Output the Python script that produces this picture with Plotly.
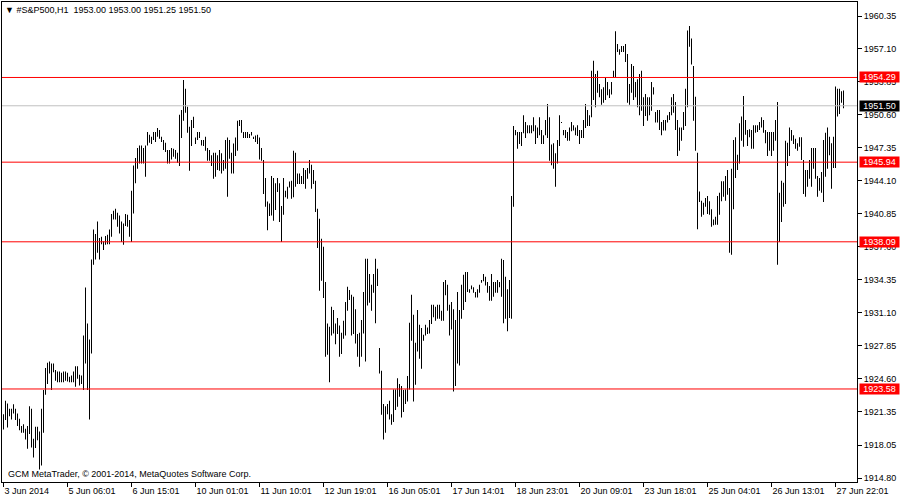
import plotly.graph_objects as go

symbol_caption = "\u25bc #S&P500,H1\u00a0\u00a01953.00 1953.00 1951.25 1951.50"
copyright_text = "GCM MetaTrader, \u00a9 2001-2014, MetaQuotes Software Corp."

# H1 bars, 3 Jun 2014 .. 27 Jun 2014 (high / low per bar)
highs = [
    1921.10, 1922.41, 1922.15, 1921.62, 1921.62, 1922.08, 1921.62, 1921.16, 1920.64, 1919.92,
    1920.11, 1919.65, 1919.92, 1921.89, 1921.62, 1918.67, 1919.85, 1919.85, 1919.39, 1921.62,
    1923.47, 1925.64, 1926.16, 1926.29, 1926.10, 1926.10, 1925.44, 1925.31, 1925.31, 1925.18,
    1925.31, 1925.31, 1925.18, 1924.78, 1924.91, 1925.31, 1925.83, 1925.83, 1924.98, 1924.91,
    1928.86, 1933.59, 1930.04, 1928.46, 1936.35, 1939.31, 1938.85, 1940.10, 1938.46, 1938.59,
    1938.13, 1938.65, 1938.78, 1939.31, 1940.82, 1941.15, 1941.35, 1940.95, 1940.69, 1940.10,
    1939.90, 1940.82, 1940.76, 1940.23, 1943.12, 1945.62, 1946.35, 1947.33, 1947.59, 1947.59,
    1947.33, 1947.59, 1948.91, 1948.65, 1948.45, 1948.91, 1948.91, 1949.30, 1949.11, 1948.45,
    1948.12, 1947.86, 1947.13, 1947.13, 1947.33, 1947.27, 1947.13, 1946.87, 1950.62, 1951.08,
    1954.04, 1953.18, 1951.41, 1949.44, 1950.09, 1950.42, 1948.38, 1948.91, 1948.91, 1948.12,
    1948.12, 1948.45, 1947.33, 1947.13, 1946.61, 1946.87, 1946.87, 1946.61, 1947.13, 1946.81,
    1946.15, 1948.12, 1948.38, 1948.12, 1946.87, 1947.79, 1948.38, 1950.03, 1950.09, 1950.09,
    1948.91, 1948.91, 1948.91, 1948.71, 1948.91, 1948.45, 1948.58, 1948.65, 1948.38, 1947.33,
    1946.15, 1944.37, 1942.07, 1941.87, 1944.57, 1944.37, 1943.85, 1944.37, 1943.85, 1941.61,
    1944.37, 1943.12, 1943.52, 1944.04, 1944.11, 1947.07, 1946.87, 1944.83, 1944.83, 1944.57,
    1945.36, 1945.16, 1945.36, 1946.15, 1945.69, 1945.16, 1944.11, 1941.35, 1940.36, 1938.39,
    1937.60, 1934.12, 1930.04, 1929.71, 1931.68, 1931.36, 1930.04, 1930.57, 1929.84, 1929.12,
    1930.31, 1932.15, 1933.66, 1933.33, 1932.87, 1932.68, 1931.43, 1928.99, 1929.13, 1930.37,
    1933.14, 1936.42, 1936.42, 1934.91, 1933.86, 1934.91, 1936.42, 1935.44, 1927.61, 1925.38,
    1922.09, 1921.89, 1922.09, 1922.42, 1921.10, 1923.54, 1923.54, 1924.65, 1924.06, 1923.87,
    1923.47, 1923.54, 1924.85, 1930.11, 1932.87, 1930.90, 1928.14, 1931.36, 1929.91, 1929.59,
    1928.93, 1929.91, 1929.65, 1930.37, 1931.89, 1931.89, 1931.69, 1931.89, 1931.89, 1931.29,
    1934.12, 1934.32, 1933.86, 1931.89, 1932.15, 1931.43, 1930.37, 1933.14, 1931.36, 1933.86,
    1934.85, 1935.11, 1935.11, 1933.40, 1933.79, 1933.60, 1933.14, 1933.40, 1933.86, 1934.32,
    1934.91, 1934.65, 1934.12, 1933.73, 1934.91, 1934.12, 1934.12, 1934.32, 1934.12, 1936.42,
    1936.29, 1934.65, 1933.40, 1934.32, 1942.60, 1949.51, 1949.11, 1948.91, 1948.91, 1948.91,
    1950.56, 1949.90, 1949.57, 1949.57, 1949.57, 1950.36, 1949.57, 1949.37, 1950.36, 1949.11,
    1948.59, 1950.10, 1951.68, 1950.36, 1947.67, 1947.80, 1946.81, 1948.13, 1950.56, 1949.90,
    1949.11, 1949.11, 1948.91, 1949.37, 1949.90, 1949.57, 1949.37, 1949.57, 1949.11, 1949.11,
    1950.10, 1951.68, 1951.08, 1950.56, 1954.96, 1955.95, 1954.63, 1954.96, 1953.65, 1953.12,
    1953.32, 1954.31, 1953.85, 1953.12, 1953.85, 1954.96, 1958.84, 1957.59, 1957.07, 1957.40,
    1957.40, 1957.59, 1956.61, 1953.65, 1955.62, 1955.42, 1953.85, 1954.11, 1954.63, 1954.96,
    1952.33, 1952.66, 1952.33, 1952.33, 1953.85, 1953.32, 1950.89, 1951.08, 1951.08, 1949.90,
    1950.10, 1950.10, 1950.56, 1950.89, 1952.33, 1952.66, 1951.87, 1950.10, 1949.37, 1949.37,
    1950.89, 1953.19, 1958.91, 1959.37, 1958.12, 1955.42, 1952.40, 1946.88, 1943.06, 1942.14,
    1941.95, 1942.41, 1942.60, 1942.08, 1941.29, 1940.30, 1940.56, 1942.60, 1942.93, 1944.05,
    1944.05, 1944.58, 1945.17, 1943.39, 1945.30, 1948.13, 1948.39, 1946.68, 1949.77, 1950.43,
    1952.46, 1950.10, 1949.11, 1949.18, 1949.11, 1949.57, 1949.57, 1949.57, 1949.90, 1950.36,
    1950.10, 1949.11, 1948.91, 1948.91, 1948.91, 1948.91, 1950.10, 1951.87, 1942.93, 1944.12,
    1943.92, 1948.06, 1947.86, 1949.37, 1949.11, 1948.59, 1948.26, 1947.80, 1948.39, 1948.39,
    1946.15, 1945.17, 1945.17, 1946.15, 1947.34, 1947.34, 1947.34, 1944.58, 1944.38, 1944.97,
    1948.13, 1948.85, 1949.37, 1948.45, 1947.80, 1948.45, 1953.39, 1953.19, 1953.19, 1952.93,
    1953.00,
]

lows = [
    1919.59, 1920.51, 1919.78, 1920.90, 1920.57, 1921.16, 1920.51, 1919.92, 1919.52, 1919.26,
    1919.26, 1918.60, 1917.68, 1919.13, 1917.81, 1916.83, 1917.75, 1918.53, 1915.64, 1916.04,
    1919.26, 1923.01, 1924.06, 1925.11, 1923.47, 1925.24, 1924.39, 1924.25, 1924.25, 1924.25,
    1924.25, 1924.39, 1924.32, 1924.25, 1924.25, 1924.25, 1923.79, 1924.58, 1923.93, 1924.06,
    1923.47, 1926.10, 1923.47, 1920.57, 1927.08, 1935.83, 1936.35, 1937.01, 1936.35, 1937.86,
    1937.27, 1937.80, 1937.86, 1937.86, 1938.59, 1940.30, 1940.30, 1939.57, 1938.92, 1938.06,
    1937.80, 1939.64, 1939.57, 1938.59, 1938.06, 1940.89, 1943.85, 1945.29, 1945.82, 1945.82,
    1945.82, 1944.50, 1947.59, 1947.86, 1947.73, 1948.12, 1947.92, 1948.45, 1948.25, 1947.92,
    1947.13, 1946.94, 1945.82, 1945.82, 1946.21, 1946.48, 1946.28, 1945.89, 1945.56, 1948.32,
    1950.03, 1950.82, 1948.84, 1945.10, 1947.53, 1949.30, 1947.73, 1948.12, 1948.32, 1947.59,
    1947.53, 1947.07, 1946.08, 1946.08, 1945.56, 1944.31, 1944.50, 1945.16, 1945.10, 1944.83,
    1945.10, 1945.29, 1942.53, 1946.28, 1944.83, 1944.83, 1946.54, 1947.07, 1949.50, 1948.84,
    1948.32, 1948.32, 1948.32, 1948.32, 1948.58, 1948.32, 1947.92, 1947.73, 1946.21, 1946.08,
    1942.79, 1941.55, 1939.24, 1940.63, 1940.69, 1940.17, 1941.22, 1942.99, 1940.03, 1938.06,
    1940.76, 1942.47, 1942.33, 1943.45, 1942.33, 1942.47, 1943.52, 1943.78, 1943.78, 1943.78,
    1943.78, 1943.32, 1944.31, 1944.83, 1943.32, 1943.78, 1941.02, 1937.47, 1933.26, 1934.25,
    1932.54, 1926.75, 1926.95, 1924.25, 1928.86, 1929.05, 1928.00, 1928.99, 1926.75, 1927.02,
    1928.53, 1928.86, 1931.29, 1932.35, 1928.86, 1928.99, 1928.07, 1926.76, 1925.77, 1926.76,
    1929.06, 1926.30, 1931.82, 1932.08, 1931.29, 1933.07, 1930.05, 1933.73, 1925.11, 1921.04,
    1918.61, 1919.26, 1921.10, 1920.58, 1920.05, 1920.32, 1921.50, 1921.83, 1922.81, 1920.78,
    1921.30, 1922.09, 1922.35, 1923.54, 1928.34, 1922.35, 1924.00, 1927.28, 1926.56, 1925.57,
    1928.34, 1928.86, 1928.99, 1929.06, 1929.98, 1930.64, 1930.31, 1930.51, 1930.51, 1930.31,
    1930.31, 1932.81, 1931.29, 1928.86, 1929.45, 1923.34, 1923.87, 1926.10, 1925.90, 1930.51,
    1931.36, 1932.15, 1933.14, 1933.07, 1933.40, 1933.07, 1932.61, 1932.61, 1933.07, 1934.06,
    1934.19, 1933.79, 1933.07, 1932.28, 1932.28, 1932.68, 1933.07, 1933.07, 1933.60, 1932.68,
    1930.05, 1930.51, 1929.26, 1930.57, 1930.51, 1941.55, 1948.59, 1947.27, 1947.73, 1947.53,
    1948.78, 1948.32, 1948.78, 1948.78, 1948.78, 1948.98, 1947.73, 1948.32, 1948.59, 1947.73,
    1947.73, 1948.59, 1948.32, 1946.09, 1945.63, 1945.30, 1943.52, 1945.82, 1947.53, 1949.83,
    1948.59, 1948.32, 1948.06, 1948.06, 1948.98, 1949.05, 1948.59, 1948.52, 1947.73, 1948.32,
    1948.32, 1949.31, 1949.51, 1949.51, 1950.36, 1952.07, 1951.35, 1952.79, 1952.33, 1951.61,
    1951.81, 1952.07, 1952.53, 1952.27, 1952.60, 1954.31, 1954.31, 1956.80, 1956.54, 1956.80,
    1956.80, 1955.82, 1951.81, 1951.61, 1952.79, 1952.07, 1952.33, 1951.35, 1950.56, 1951.02,
    1949.51, 1950.49, 1950.03, 1950.56, 1951.02, 1952.60, 1949.84, 1949.84, 1949.11, 1948.59,
    1949.05, 1949.05, 1949.84, 1950.10, 1950.56, 1950.82, 1949.11, 1946.55, 1947.07, 1948.06,
    1949.11, 1949.51, 1951.35, 1957.33, 1955.56, 1950.03, 1947.07, 1939.32, 1942.01, 1940.56,
    1940.76, 1941.55, 1940.83, 1940.76, 1939.58, 1939.71, 1939.78, 1939.78, 1940.76, 1942.08,
    1942.54, 1942.14, 1942.73, 1937.01, 1936.82, 1941.29, 1944.38, 1945.17, 1945.82, 1948.06,
    1947.47, 1948.65, 1947.53, 1948.39, 1947.27, 1947.27, 1948.85, 1948.91, 1949.11, 1949.37,
    1948.85, 1947.80, 1946.55, 1947.07, 1946.55, 1947.07, 1948.06, 1935.83, 1938.07, 1940.04,
    1941.55, 1941.81, 1945.56, 1946.55, 1948.06, 1947.73, 1947.27, 1947.07, 1947.47, 1946.15,
    1942.80, 1942.54, 1943.52, 1944.31, 1943.52, 1945.30, 1944.31, 1942.54, 1943.13, 1942.93,
    1942.01, 1944.51, 1945.30, 1946.61, 1943.33, 1945.36, 1945.36, 1950.43, 1950.69, 1951.81,
    1951.25,
]

x_tick_labels = [
    "3 Jun 2014", "5 Jun 06:01", "6 Jun 15:01", "10 Jun 01:01", "11 Jun 10:01",
    "12 Jun 19:01", "16 Jun 05:01", "17 Jun 14:01", "18 Jun 23:01", "20 Jun 09:01",
    "23 Jun 18:01", "25 Jun 04:01", "26 Jun 13:01", "27 Jun 22:01",
]
bars_per_label = 32

y_tick_vals = [1960.35, 1957.10, 1953.85, 1950.60, 1947.35, 1944.10, 1940.85, 1937.60,
               1934.35, 1931.10, 1927.85, 1924.60, 1921.35, 1918.05, 1914.80]
y_tick_text = [f"{v:.2f}" for v in y_tick_vals]

level_prices = [1954.29, 1945.94, 1938.09, 1923.58]
bid_price = 1951.50

FONT = "Tahoma, 'Liberation Sans', Arial, sans-serif"

n = len(highs)
idx = list(range(n))
ranges = [h - l for h, l in zip(highs, lows)]

fig = go.Figure(go.Bar(
    x=idx, base=lows, y=ranges, width=0.45,
    marker=dict(color="black", line=dict(width=0)),
    hoverinfo="skip",
))

for lev in level_prices:
    fig.add_hline(y=lev, line=dict(color="#ff0000", width=1))
fig.add_hline(y=bid_price, line=dict(color="#c0c0c0", width=1))

for lev in level_prices:
    fig.add_annotation(x=1, xref="paper", y=lev, yref="y", text=f"{lev:.2f}",
                       xanchor="left", yanchor="middle", xshift=2, showarrow=False,
                       bgcolor="#ff0000", font=dict(color="white", size=9, family=FONT),
                       width=39, height=10, borderpad=0, align="center")
fig.add_annotation(x=1, xref="paper", y=bid_price, yref="y", text=f"{bid_price:.2f}",
                   xanchor="left", yanchor="middle", xshift=2, showarrow=False,
                   bgcolor="#000000", font=dict(color="white", size=9, family=FONT),
                   width=39, height=10, borderpad=0, align="center")

fig.add_annotation(x=0, xref="paper", y=1, yref="paper", text=symbol_caption,
                   xanchor="left", yanchor="top", xshift=1, yshift=-1, showarrow=False,
                   font=dict(color="black", size=9, family=FONT))
fig.add_annotation(x=0, xref="paper", y=0, yref="paper", text=copyright_text,
                   xanchor="left", yanchor="bottom", xshift=4, yshift=1, showarrow=False,
                   font=dict(color="black", size=9, family=FONT))

fig.update_layout(
    width=900, height=500,
    margin=dict(l=2, r=43, t=2, b=18),
    paper_bgcolor="white", plot_bgcolor="white",
    showlegend=False,
    font=dict(family=FONT, size=9, color="black"),
)
fig.update_xaxes(
    range=[-0.75, 426.75],
    tickvals=list(range(0, n, bars_per_label))[:len(x_tick_labels)],
    ticktext=x_tick_labels,
    ticks="outside", ticklen=4, tickcolor="black", tickwidth=1,
    ticklabelposition="outside right",
    showgrid=False, zeroline=False,
    showline=True, linecolor="black", linewidth=1, mirror=True,
    tickfont=dict(size=9, family=FONT, color="black"),
)
fig.update_yaxes(
    side="right",
    range=[1914.41, 1961.73],
    tickvals=y_tick_vals, ticktext=y_tick_text,
    ticks="outside", ticklen=4, tickcolor="black", tickwidth=1,
    showgrid=False, zeroline=False,
    showline=True, linecolor="black", linewidth=1, mirror=True,
    tickfont=dict(size=9, family=FONT, color="black"),
)

fig.write_html("out.html", config={"displayModeBar": False},
               post_script="document.body.style.margin='0';")
